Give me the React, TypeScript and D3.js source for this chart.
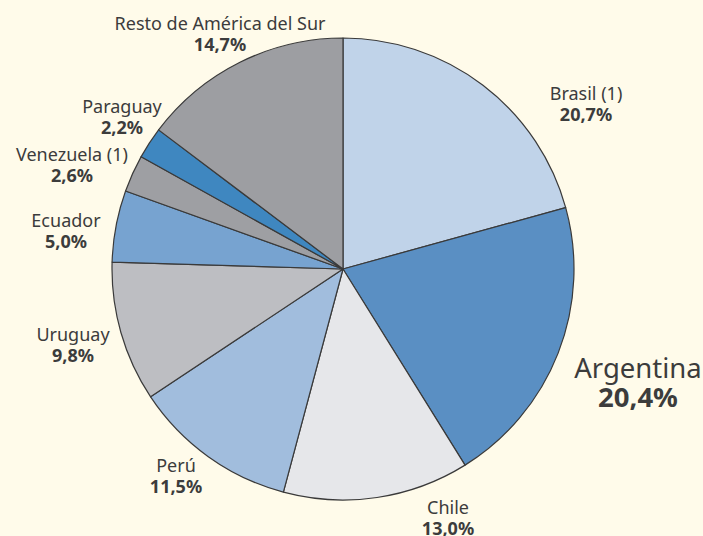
import React from "react";
import * as d3 from "d3";

const countries = ["Brasil (1)", "Argentina", "Chile", "Perú", "Uruguay", "Ecuador", "Venezuela (1)", "Paraguay", "Resto de América del Sur"];
const shares = [20.7, 20.4, 13.0, 11.5, 9.8, 5.0, 2.6, 2.2, 14.7];
const colors = ["#c0d3e9", "#5a8fc3", "#e6e7ea", "#a1bddd", "#bdbec2", "#77a3d0", "#9e9fa3", "#3f87c0", "#9d9ea2"];

// label anchor points (layout only): [x, baseline y of name]
const labelPos: [number, number][] = [
  [586, 100], [638, 378], [448, 514], [176, 472], [73, 341], [66, 227], [72, 161], [122, 113], [220, 30],
];

const W = 703, H = 536;
const cx = 343, cy = 269, R = 231;

export default function App() {
  const pie = d3.pie<number>().sort(null).value((d) => d)(shares);
  const arc = d3.arc<d3.PieArcDatum<number>>().innerRadius(0).outerRadius(R);
  const fmt = (v: number) => v.toFixed(1).replace(".", ",") + "%";
  return (
    <svg width={W} height={H} style={{ position: "absolute", left: 0, top: 0, display: "block" }}
      fontFamily="'Noto Sans', sans-serif">
      <rect x={0} y={0} width={W} height={H} fill="#fffbea" />
      <g transform={`translate(${cx},${cy})`}>
        {pie.map((p, i) => (
          <path key={i} d={arc(p) || ""} fill={colors[i]} stroke="#3a3a3a" strokeWidth={1.2} strokeLinejoin="round" />
        ))}
      </g>
      {countries.map((c, i) => {
        const big = i === 1;
        const [x, y] = labelPos[i];
        return (
          <g key={c} fill="#3c3c3c" textAnchor="middle">
            <text x={x} y={y} fontSize={big ? 27.5 : 18}>{c}</text>
            <text x={x} y={y + (big ? 29 : 20.5)} fontSize={big ? 27.5 : 18} fontWeight="bold">{fmt(shares[i])}</text>
          </g>
        );
      })}
    </svg>
  );
}
